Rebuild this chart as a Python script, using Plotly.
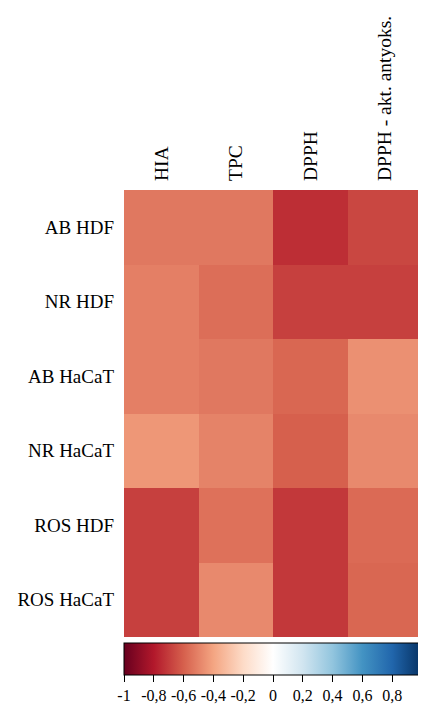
import plotly.graph_objects as go

rows = ["AB HDF", "NR HDF", "AB HaCaT", "NR HaCaT", "ROS HDF", "ROS HaCaT"]
cols = ["HIA", "TPC", "DPPH", "DPPH - akt. antyoks."]

hia = [-0.53, -0.51, -0.51, -0.44, -0.69, -0.69]
tpc = [-0.53, -0.56, -0.53, -0.50, -0.55, -0.48]
dpph = [-0.74, -0.69, -0.58, -0.60, -0.71, -0.71]
dpph_akt = [-0.67, -0.69, -0.46, -0.48, -0.57, -0.58]

tick_vals = [-1, -0.8, -0.6, -0.4, -0.2, 0, 0.2, 0.4, 0.6, 0.8, 1]
tick_text = ["-1", "-0,8", "-0,6", "-0,4", "-0,2", "0", "0,2", "0,4", "0,6", "0,8", "1"]

z = [[hia[i], tpc[i], dpph[i], dpph_akt[i]] for i in range(len(rows))]

palette = ["#67001F", "#B2182B", "#D6604D", "#F4A582", "#FDDBC7", "#FFFFFF",
           "#D1E5F0", "#92C5DE", "#4393C3", "#2166AC", "#053061"]
colorscale = [[i / (len(palette) - 1), c] for i, c in enumerate(palette)]

font = "Liberation Serif"

fig = go.Figure(go.Heatmap(
    z=z, x=cols, y=rows, zmin=-1, zmax=1, colorscale=colorscale,
    colorbar=dict(
        orientation="h", x=0, xanchor="left", xref="paper", len=1, lenmode="fraction",
        y=-0.014, yanchor="top", yref="paper", thickness=32, xpad=0, ypad=0,
        outlinewidth=1, outlinecolor="black",
        ticks="outside", ticklen=7, tickcolor="black",
        tickvals=tick_vals, ticktext=tick_text, ticklabeloverflow="allow",
        tickfont=dict(family=font, size=16, color="black"),
    ),
))

fig.update_layout(
    width=418, height=700,
    margin=dict(l=116, r=4, t=182, b=71, autoexpand=False),
    paper_bgcolor="white", plot_bgcolor="white",
    xaxis=dict(side="top", tickangle=-90, showgrid=False, zeroline=False,
               ticks="", ticklabelstandoff=8, automargin=False,
               tickfont=dict(family=font, size=19.5, color="black")),
    yaxis=dict(autorange="reversed", showgrid=False, zeroline=False,
               ticks="", ticklabelstandoff=9, automargin=False,
               tickfont=dict(family=font, size=19, color="black")),
)

fig.write_html("out.html")
